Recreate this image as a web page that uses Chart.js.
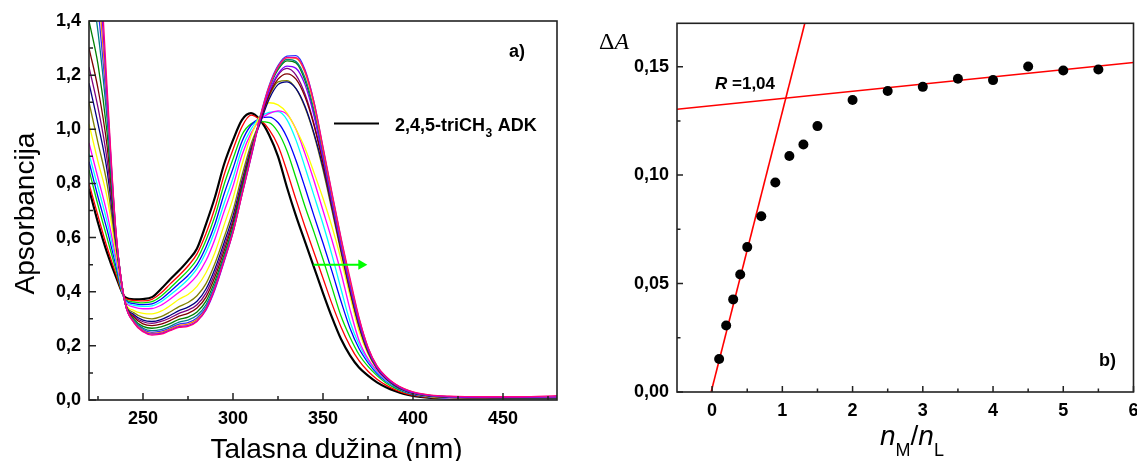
<!DOCTYPE html>
<html><head><meta charset="utf-8">
<script src="https://cdn.jsdelivr.net/npm/chart.js@4.4.1/dist/chart.umd.min.js"></script>
<style>
html,body{margin:0;padding:0;background:#fff;overflow:hidden;width:1137px;height:461px;position:relative;}
#c1{position:absolute;left:0;top:0;}
#c2{position:absolute;left:565px;top:0;}
</style></head><body>
<canvas id="c1" width="565" height="461"></canvas>
<canvas id="c2" width="600" height="461"></canvas>
<script>
// ---------- Panel a) : UV spectra ----------
const wavelengths = [220,225,230,235,240,245,250,255,260,265,270,275,280,285,290,295,300,305,310,315,320,325,330,335,340,345,350,355,360,365,370,375,380,385,390,395,400,410,420,440,460,480];
const abs01 = [0.78,0.655,0.545,0.455,0.38, 0.372,0.373,0.38,0.41,0.445, 0.478,0.515,0.56,0.65,0.75, 0.87,0.96,1.035,1.06,1.035, 0.98,0.90,0.785,0.68,0.585, 0.49,0.395,0.305,0.225,0.165, 0.12,0.09,0.065,0.047,0.033, 0.022,0.015,0.008,0.005,0.004, 0.003,0.003];
const abs02 = [0.80,0.68,0.565,0.465,0.376, 0.368,0.366,0.372,0.395,0.428, 0.46,0.495,0.54,0.615,0.71, 0.83,0.925,1.01,1.052,1.035, 1.0,0.94,0.845,0.74,0.64, 0.545,0.45,0.355,0.27,0.2, 0.145,0.106,0.077,0.055,0.038, 0.025,0.017,0.009,0.006,0.004, 0.003,0.003];
const abs03 = [0.85,0.72,0.60,0.48,0.372, 0.362,0.359,0.363,0.383,0.413, 0.445,0.478,0.52,0.59,0.68, 0.795,0.89,0.98,1.02,1.028, 1.025,0.99,0.92,0.82,0.715, 0.62,0.52,0.415,0.31,0.232, 0.168,0.124,0.09,0.063,0.044, 0.03,0.02,0.01,0.006,0.004, 0.003,0.003];
const abs04 = [0.88,0.75,0.63,0.495,0.37, 0.356,0.352,0.355,0.372,0.40, 0.43,0.46,0.50,0.565,0.65, 0.76,0.855,0.955,1.015,1.04, 1.045,1.025,0.97,0.885,0.785, 0.68,0.58,0.475,0.365,0.265, 0.19,0.138,0.098,0.069,0.048, 0.032,0.021,0.011,0.007,0.005, 0.004,0.004];
const abs05 = [0.91,0.785,0.66,0.51,0.368, 0.35,0.346,0.348,0.363,0.388, 0.415,0.445,0.485,0.545,0.625, 0.725,0.82,0.93,1.0,1.045, 1.062,1.065,1.035,0.96,0.86, 0.755,0.65,0.535,0.41,0.29, 0.205,0.145,0.103,0.072,0.05, 0.034,0.023,0.012,0.008,0.005, 0.004,0.004];
const abs06 = [0.95,0.82,0.69,0.525,0.366, 0.343,0.337,0.338,0.35,0.372, 0.398,0.425,0.46,0.515,0.595, 0.695,0.79,0.905,0.985,1.035, 1.058,1.068,1.055,1.0,0.91, 0.81,0.70,0.59,0.47,0.335, 0.22,0.152,0.108,0.076,0.053, 0.036,0.024,0.012,0.008,0.006, 0.005,0.005];
const abs07 = [1.02,0.88,0.75,0.545,0.364, 0.33,0.32,0.318,0.328,0.348, 0.372,0.39,0.42,0.47,0.545, 0.645,0.745,0.87,0.975,1.05, 1.098,1.09,1.06,1.0,0.93, 0.84,0.745,0.64,0.52,0.385, 0.255,0.17,0.115,0.08,0.055, 0.037,0.025,0.013,0.009,0.006, 0.005,0.005];
const abs08 = [1.10,0.95,0.80,0.565,0.362, 0.322,0.305,0.30,0.308,0.325, 0.345,0.36,0.385,0.43,0.505, 0.60,0.70,0.83,0.945,1.03, 1.12,1.175,1.18,1.15,1.08, 0.98,0.85,0.70,0.545,0.40, 0.27,0.175,0.115,0.078,0.052, 0.035,0.024,0.013,0.01,0.008, 0.007,0.007];
const abs09 = [1.17,1.02,0.85,0.58,0.361, 0.315,0.295,0.29,0.297,0.312, 0.33,0.343,0.365,0.41,0.485, 0.58,0.68,0.81,0.93,1.02, 1.11,1.165,1.175,1.15,1.085, 0.985,0.86,0.71,0.555,0.405, 0.275,0.178,0.117,0.079,0.053, 0.036,0.025,0.014,0.01,0.008, 0.007,0.007];
const abs10 = [1.23,1.08,0.89,0.59,0.36, 0.31,0.289,0.283,0.29,0.303, 0.32,0.332,0.352,0.395,0.47, 0.565,0.665,0.80,0.925,1.03, 1.13,1.2,1.225,1.2,1.13, 1.02,0.88,0.72,0.56,0.41, 0.278,0.18,0.118,0.08,0.054, 0.036,0.025,0.014,0.011,0.009, 0.008,0.008];
const abs11 = [1.30,1.15,0.94,0.60,0.36, 0.305,0.281,0.275,0.28,0.293, 0.31,0.32,0.34,0.38,0.455, 0.55,0.655,0.79,0.918,1.03, 1.125,1.185,1.205,1.185,1.12, 1.015,0.875,0.72,0.56,0.41, 0.28,0.182,0.12,0.081,0.055, 0.037,0.026,0.015,0.011,0.009, 0.008,0.008];
const abs12 = [1.40,1.24,0.99,0.605,0.36, 0.298,0.272,0.265,0.27,0.282, 0.298,0.306,0.325,0.365,0.44, 0.535,0.64,0.78,0.91,1.04, 1.15,1.22,1.253,1.245,1.18, 1.06,0.90,0.73,0.57,0.42, 0.285,0.185,0.12,0.082,0.056, 0.038,0.026,0.015,0.012,0.01, 0.009,0.009];
const abs13 = [1.58,1.36,1.04,0.61,0.36, 0.293,0.265,0.256,0.26,0.272, 0.288,0.295,0.313,0.352,0.428, 0.525,0.632,0.772,0.905,1.04, 1.15,1.225,1.258,1.25,1.19, 1.07,0.91,0.74,0.575,0.425, 0.29,0.188,0.122,0.083,0.057, 0.039,0.027,0.016,0.012,0.01, 0.009,0.009];
const abs14 = [1.75,1.45,1.08,0.615,0.36, 0.29,0.26,0.25,0.254,0.266, 0.28,0.286,0.303,0.342,0.418, 0.518,0.625,0.765,0.90,1.045, 1.16,1.235,1.27,1.272,1.22, 1.10,0.93,0.76,0.595,0.44, 0.30,0.192,0.124,0.084,0.058, 0.04,0.028,0.016,0.012,0.01, 0.01,0.01];
const abs15 = [1.90,1.55,1.11,0.618,0.36, 0.288,0.257,0.246,0.25,0.262, 0.275,0.28,0.297,0.336,0.412, 0.513,0.62,0.76,0.897,1.04, 1.155,1.23,1.265,1.262,1.21, 1.09,0.925,0.755,0.59,0.44, 0.30,0.192,0.124,0.085,0.059, 0.041,0.029,0.017,0.013,0.011, 0.01,0.011];
const abs16 = [2.05,1.65,1.13,0.62,0.36, 0.286,0.254,0.243,0.246,0.258, 0.271,0.275,0.292,0.332,0.408, 0.51,0.618,0.758,0.895,1.035, 1.14,1.205,1.233,1.225,1.165, 1.05,0.895,0.73,0.57,0.42, 0.288,0.187,0.121,0.083,0.057, 0.039,0.027,0.016,0.012,0.01, 0.01,0.011];
const abs17 = [2.2,1.75,1.16,0.62,0.362, 0.285,0.252,0.24,0.243,0.256, 0.268,0.272,0.29,0.335,0.415, 0.515,0.62,0.76,0.90,1.04, 1.155,1.23,1.265,1.265,1.215, 1.10,0.935,0.765,0.60,0.45, 0.305,0.195,0.126,0.087,0.06, 0.042,0.03,0.018,0.014,0.012, 0.012,0.016];
const spectraSeries = [abs01,abs02,abs03,abs04,abs05,abs06,abs07,abs08,abs09,abs10,abs11,abs12,abs13,abs14,abs15,abs16,abs17];
const spectraColors = ['#000000','#FF0000','#00DD00','#0000FF','#00FFFF','#FF00FF','#FFFF00','#808000','#000080','#800080','#800000','#008000','#008080','#3030FF','#FF8000','#8000FF','#FF0080'];
const arrowX = [344.7, 371.3];
const arrowY = [0.5, 0.5];
const xTicksA = [250,300,350,400,450];
const xMinorA = [225,275,325,375,425,475];
const yTicksA = [0,0.2,0.4,0.6,0.8,1.0,1.2,1.4];
const yMinorA = [0.1,0.3,0.5,0.7,0.9,1.1,1.3];
const legendLabel = ['2,4,5-triCH','3',' ADK'];

// ---------- Panel b) : mole-ratio plot ----------
const ratioX = [0.1,0.2,0.3,0.4,0.5,0.7,0.9,1.1,1.3,1.5,2,2.5,3,3.5,4,4.5,5,5.5];
const deltaA = [0.0152,0.0307,0.0427,0.0542,0.0668,0.081,0.0966,0.1088,0.1141,0.1226,0.1346,0.1388,0.1407,0.1444,0.1438,0.1501,0.1482,0.1487];
const fitSteepX = [-0.014, 1.32];
const fitSteepY = [0, 0.17];
const fitFlatX = [-0.5, 6];
const fitFlatY = [0.1304, 0.1519];
const xTicksB = [0,1,2,3,4,5,6];
const xMinorB = [0.5,1.5,2.5,3.5,4.5,5.5];
const yTicksB = [0,0.05,0.10,0.15];
const yMinorB = [0.025,0.075,0.125];

const SANS = '"Liberation Sans", Arial, Helvetica, sans-serif';
const SERIF = '"Liberation Serif", "Times New Roman", serif';
const pts = (xs, ys) => xs.map((x, i) => ({x: x, y: ys[i]}));

function tickMarks(chart, xMaj, xMin, yMaj, yMin, maj, min) {
  const ctx = chart.ctx, a = chart.chartArea, sx = chart.scales.x, sy = chart.scales.y;
  ctx.save();
  ctx.strokeStyle = '#222'; ctx.lineWidth = 1.5;
  ctx.beginPath();
  xMaj.forEach(v => { const p = sx.getPixelForValue(v); ctx.moveTo(p, a.bottom); ctx.lineTo(p, a.bottom - maj); });
  xMin.forEach(v => { const p = sx.getPixelForValue(v); ctx.moveTo(p, a.bottom); ctx.lineTo(p, a.bottom - min); });
  yMaj.forEach(v => { const p = sy.getPixelForValue(v); ctx.moveTo(a.left, p); ctx.lineTo(a.left + maj, p); });
  yMin.forEach(v => { const p = sy.getPixelForValue(v); ctx.moveTo(a.left, p); ctx.lineTo(a.left + min, p); });
  ctx.stroke();
  ctx.lineWidth = 1.6;
  ctx.strokeRect(a.left, a.top, a.right - a.left, a.bottom - a.top);
  ctx.restore();
}
function txt(ctx, s, x, y, font, align) {
  ctx.font = font; ctx.textAlign = align || 'left'; ctx.textBaseline = 'alphabetic';
  ctx.fillText(s, x, y);
  return ctx.measureText(s).width;
}

const decoA = {
  id: 'decoA',
  afterDraw(chart) {
    const ctx = chart.ctx;
    tickMarks(chart, xTicksA, xMinorA, yTicksA, yMinorA, 7, 4);
    ctx.save();
    ctx.fillStyle = '#000'; ctx.strokeStyle = '#000';
    ctx.lineWidth = 2;
    ctx.beginPath(); ctx.moveTo(334, 123.5); ctx.lineTo(379, 123.5); ctx.stroke();
    let x = 395;
    x += txt(ctx, legendLabel[0], x, 131, 'bold 18px ' + SANS);
    x += txt(ctx, legendLabel[1], x + 0.5, 137, 'bold 12px ' + SANS) + 1;
    txt(ctx, legendLabel[2], x, 131, 'bold 18px ' + SANS);
    txt(ctx, 'a)', 509, 57, 'bold 18px ' + SANS);
    txt(ctx, 'Talasna dužina (nm)', 336.5, 458, '28px ' + SANS, 'center');
    ctx.translate(34, 213.5); ctx.rotate(-Math.PI / 2);
    txt(ctx, 'Apsorbancija', 0, 0, '28px ' + SANS, 'center');
    ctx.restore();
  }
};

const decoB = {
  id: 'decoB',
  afterDraw(chart) {
    const ctx = chart.ctx;
    tickMarks(chart, xTicksB, xMinorB, yTicksB, yMinorB, 6, 3.5);
    ctx.save();
    ctx.fillStyle = '#000';
    let x = 34;
    x += txt(ctx, '\u0394', x, 49, '24px ' + SERIF);
    txt(ctx, 'A', x, 49, 'italic 24px ' + SERIF);
    x = 150;
    x += txt(ctx, 'R', x, 89, 'bold italic 17px ' + SANS);
    txt(ctx, ' =1,04', x, 89, 'bold 17px ' + SANS);
    txt(ctx, 'b)', 534, 366, 'bold 18px ' + SANS);
    x = 315;
    x += txt(ctx, 'n', x, 445, 'italic 28px ' + SANS);
    x += txt(ctx, 'M', x, 456, '18px ' + SANS);
    x += txt(ctx, '/', x, 445, '28px ' + SANS);
    x += txt(ctx, 'n', x, 445, 'italic 28px ' + SANS);
    txt(ctx, 'L', x, 456, '18px ' + SANS);
    ctx.restore();
  }
};

const tickFont = {family: SANS, size: 18, weight: 'bold'};

const spectraDatasets = spectraSeries.map((arr, i) => ({
  data: pts(wavelengths, arr),
  borderColor: spectraColors[i],
  borderWidth: i === 0 ? 2.2 : 1.3,
  pointRadius: 0,
  cubicInterpolationMode: 'monotone',
  fill: false,
  order: spectraSeries.length - i + 1
}));
spectraDatasets.push({
  data: pts(arrowX, arrowY),
  borderColor: '#00FF00',
  backgroundColor: '#00FF00',
  borderWidth: 2,
  pointRadius: [0, 6],
  pointStyle: 'triangle',
  rotation: 90,
  pointBackgroundColor: '#00FF00',
  pointBorderColor: '#00FF00',
  pointBorderWidth: 0,
  order: 0
});

new Chart(document.getElementById('c1'), {
  type: 'line',
  data: {datasets: spectraDatasets},
  options: {
    responsive: false, animation: false, devicePixelRatio: 1,
    layout: {padding: {left: 0, top: 21, right: 8, bottom: 0}},
    plugins: {legend: {display: false}, tooltip: {enabled: false}},
    scales: {
      x: {
        type: 'linear', min: 220, max: 480,
        grid: {display: false, drawTicks: false}, border: {display: false},
        ticks: {font: tickFont, color: '#000', padding: 8, maxRotation: 0, autoSkip: false},
        afterBuildTicks: s => { s.ticks = xTicksA.map(v => ({value: v})); },
        afterFit: s => { s.height = 61; }
      },
      y: {
        type: 'linear', min: 0, max: 1.4,
        grid: {display: false, drawTicks: false}, border: {display: false},
        ticks: {font: tickFont, color: '#000', padding: 8, autoSkip: false,
                callback: v => v.toFixed(1).replace('.', ',')},
        afterBuildTicks: s => { s.ticks = yTicksA.map(v => ({value: v})); },
        afterFit: s => { s.width = 89; }
      }
    }
  },
  plugins: [decoA]
});

new Chart(document.getElementById('c2'), {
  type: 'scatter',
  data: {datasets: [
    {data: pts(ratioX, deltaA), pointRadius: 5, pointBackgroundColor: '#000', pointBorderColor: '#000', pointBorderWidth: 0, showLine: false, order: 0},
    {data: pts(fitSteepX, fitSteepY), showLine: true, borderColor: '#FF0000', borderWidth: 1.6, pointRadius: 0, order: 1},
    {data: pts(fitFlatX, fitFlatY), showLine: true, borderColor: '#FF0000', borderWidth: 1.6, pointRadius: 0, order: 1}
  ]},
  options: {
    responsive: false, animation: false, devicePixelRatio: 1,
    layout: {padding: {left: 0, top: 23.3, right: 31.5, bottom: 0}},
    plugins: {legend: {display: false}, tooltip: {enabled: false}},
    scales: {
      x: {
        type: 'linear', min: -0.5, max: 6,
        grid: {display: false, drawTicks: false}, border: {display: false},
        ticks: {font: tickFont, color: '#000', padding: 8, maxRotation: 0, autoSkip: false,
                callback: v => String(v)},
        afterBuildTicks: s => { s.ticks = xTicksB.map(v => ({value: v})); },
        afterFit: s => { s.height = 69; }
      },
      y: {
        type: 'linear', min: 0, max: 0.17,
        grid: {display: false, drawTicks: false}, border: {display: false},
        ticks: {font: tickFont, color: '#000', padding: 8, autoSkip: false,
                callback: v => v.toFixed(2).replace('.', ',')},
        afterBuildTicks: s => { s.ticks = yTicksB.map(v => ({value: v})); },
        afterFit: s => { s.width = 112; }
      }
    }
  },
  plugins: [decoB]
});
</script>
</body></html>
